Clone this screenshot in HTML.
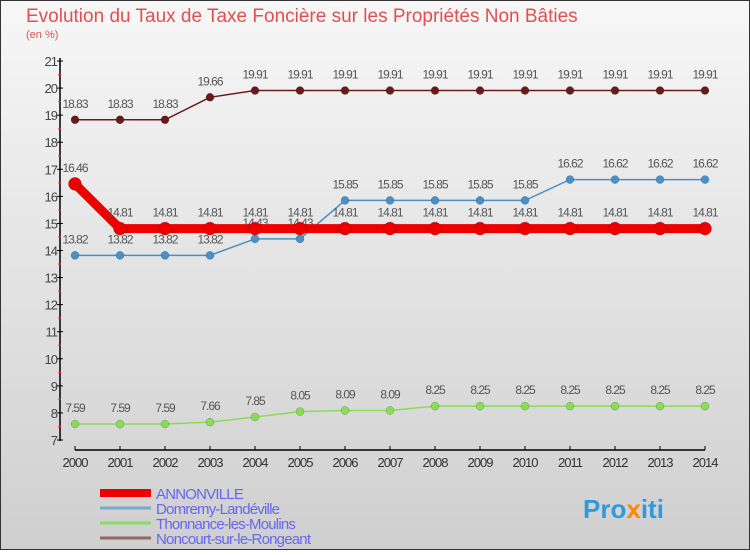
<!DOCTYPE html>
<html><head><meta charset="utf-8"><style>
body{margin:0}
svg text{font-family:"Liberation Sans",sans-serif}
</style></head><body>
<svg width="750" height="550" xmlns="http://www.w3.org/2000/svg">
<defs><linearGradient id="bg" x1="0" y1="0" x2="0" y2="1"><stop offset="0" stop-color="#f7f7f7"/><stop offset="1" stop-color="#cfcfcf"/></linearGradient></defs>
<rect x="0.5" y="0.5" width="749" height="549" fill="url(#bg)" stroke="#333"/>
<text x="26" y="22" font-size="19" fill="#e05050">Evolution du Taux de Taxe Foncière sur les Propriétés Non Bâties</text>
<text x="26" y="38" font-size="11" fill="#e05050">(en %)</text>
<g id="axes"></g><g id="series"></g><g id="legend"></g>
<text x="583" y="518" font-size="26" font-weight="bold" fill="#3399dd">Pro<tspan fill="#ff8800">x</tspan>iti</text>
</svg>
<script>
const years=[2000,2001,2002,2003,2004,2005,2006,2007,2008,2009,2010,2011,2012,2013,2014];
const yTicks=[7,8,9,10,11,12,13,14,15,16,17,18,19,20,21];
const annonville=[16.46,14.81,14.81,14.81,14.81,14.81,14.81,14.81,14.81,14.81,14.81,14.81,14.81,14.81,14.81];
const domremy=[13.82,13.82,13.82,13.82,14.43,14.43,15.85,15.85,15.85,15.85,15.85,16.62,16.62,16.62,16.62];
const thonnance=[7.59,7.59,7.59,7.66,7.85,8.05,8.09,8.09,8.25,8.25,8.25,8.25,8.25,8.25,8.25];
const noncourt=[18.83,18.83,18.83,19.66,19.91,19.91,19.91,19.91,19.91,19.91,19.91,19.91,19.91,19.91,19.91];
const seriesNames=["ANNONVILLE","Domremy-Landéville","Thonnance-les-Moulins","Noncourt-sur-le-Rongeant"];
const NS="http://www.w3.org/2000/svg";
const X=i=>75+i*45, Y=v=>440-(v-7)*27.07;
function mk(t,a,p,txt){const e=document.createElementNS(NS,t);for(const k in a)e.setAttribute(k,a[k]);if(txt!==undefined)e.textContent=txt;p.appendChild(e);return e;}
const ax=document.getElementById('axes');
let e=mk('line',{x1:60,y1:58,x2:60,y2:441,stroke:'#000','stroke-width':1.5},ax);


e=mk('line',{x1:75,y1:450,x2:705,y2:450,stroke:'#000','stroke-width':1.5},ax);


yTicks.forEach(v=>{
  mk('line',{x1:57,y1:Y(v),x2:63,y2:Y(v),stroke:'#000'},ax);
  if(v<21)mk('line',{x1:58,y1:Y(v+0.5),x2:61,y2:Y(v+0.5),stroke:'#f33'},ax);
  e=mk('text',{x:57,y:Y(v)+5,'font-size':13,'text-anchor':'end',fill:'#444','letter-spacing':-1},ax,v);
  
  
});
years.forEach((y,i)=>{
  mk('line',{x1:X(i),y1:446,x2:X(i),y2:450,stroke:'#000'},ax);
  e=mk('text',{x:X(i),y:467,'font-size':13,'text-anchor':'middle',fill:'#333','letter-spacing':-1},ax,y);
  
  
});
const sg=document.getElementById('series');
function draw(vals,color,w,r,name,labels){
  const g=mk('g',{},sg);
  
  
  mk('polyline',{points:vals.map((v,i)=>X(i)+','+Y(v)).join(' '),fill:'none',stroke:color,'stroke-width':w},g);
  vals.forEach((v,i)=>{
    const c=mk('circle',{cx:X(i),cy:Y(v),r:r,fill:color,stroke:'rgba(0,0,0,0.3)','stroke-width':0.5},g);
    
    
    if(labels){const t=mk('text',{x:X(i),y:Y(v)-12,'font-size':12,'text-anchor':'middle',fill:'#555','letter-spacing':-1},g,v.toFixed(2).replace(/0$/,'').replace(/\.$/,''));
    
    }
  });
}
draw(thonnance,'#88dd55',1.5,4,'series-thonnance',true);
draw(domremy,'#4a90c8',1.5,4,'series-domremy',true);
draw(noncourt,'#6b1a1a',1.5,4,'series-noncourt',true);
draw(annonville,'#ee0000',9,6.5,'series-annonville',true);
const lg=document.getElementById('legend');
const lc=['#ee0000','#77aacc','#88dd66','#996666'],lw=[8,3,3,3];
seriesNames.forEach((n,i)=>{
  const y=493+i*15;
  const g=mk('g',{},lg);
  
  
  mk('line',{x1:100,y1:y,x2:151,y2:y,stroke:lc[i],'stroke-width':lw[i]},g);
  mk('text',{x:156,y:y+6,'font-size':15,fill:'#6666ee','letter-spacing':-0.8},g,n);
});
</script>
</body></html>
